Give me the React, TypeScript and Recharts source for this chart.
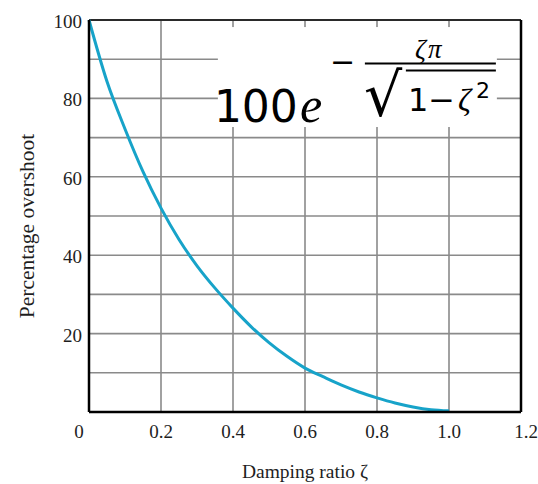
import React from "react";
import {
  LineChart,
  Line,
  XAxis,
  YAxis,
  CartesianGrid,
  ReferenceLine,
} from "recharts";

const zeta = [0, 0.05, 0.1, 0.15, 0.2, 0.25, 0.3, 0.35, 0.4, 0.45, 0.5, 0.55, 0.6, 0.65, 0.7, 0.75, 0.8, 0.85, 0.9, 0.95, 1.0];
const overshoot = [100, 84.3, 72.2, 61.3, 52, 44, 37.3, 31.6, 26.5, 21.8, 17.7, 14.2, 11.2, 9.0, 6.9, 5.1, 3.6, 2.3, 1.3, 0.6, 0.3];
const xTicks = [0, 0.2, 0.4, 0.6, 0.8, 1.0, 1.2];
const xTickLabels = ["0", "0.2", "0.4", "0.6", "0.8", "1.0", "1.2"];
const yTicks = [0, 10, 20, 30, 40, 50, 60, 70, 80, 90, 100];
const yLabelValues = [20, 40, 60, 80, 100];
const xTitle = "Damping ratio \u03B6";
const yTitle = "Percentage overshoot";
const X_DOMAIN = [0, 1.2];
const Y_DOMAIN = [0, 100];
// formula annotation box (data coords)
const formulaBox = { x1: 0.358, x2: 1.133, y1: 72.7, y2: 98.2 };

const data = zeta.map((z, i) => ({ z, p: overshoot[i] }));

const W = 538;
const H = 484;
const MARGIN = { top: 20, right: 17, bottom: 0, left: 0 };
const Y_AXIS_W = 89;
const X_AXIS_H = 72;
const PLOT = {
  left: MARGIN.left + Y_AXIS_W,
  top: MARGIN.top,
  width: W - MARGIN.left - MARGIN.right - Y_AXIS_W,
  height: H - MARGIN.top - MARGIN.bottom - X_AXIS_H,
};
const sx = (v: number) => PLOT.left + ((v - X_DOMAIN[0]) / (X_DOMAIN[1] - X_DOMAIN[0])) * PLOT.width;
const sy = (v: number) => PLOT.top + (1 - (v - Y_DOMAIN[0]) / (Y_DOMAIN[1] - Y_DOMAIN[0])) * PLOT.height;

const SERIF = "Liberation Serif";
const SANS = "DejaVu Sans";
const TEXT = "#1e1e1e";

const XTick = (props: any) => {
  const { x, y, payload } = props;
  const idx = xTicks.indexOf(payload.value);
  const label = idx >= 0 ? xTickLabels[idx] : String(payload.value);
  let dx = 0;
  if (payload.value === 0) dx = -10;
  if (payload.value === 1.2) dx = 5;
  return (
    <text x={x + dx} y={y + 26} textAnchor="middle" fontFamily={SERIF} fontSize={19} fill={TEXT}>
      {label}
    </text>
  );
};

const YTick = (props: any) => {
  const { x, y, payload } = props;
  if (!yLabelValues.includes(payload.value)) return null;
  return (
    <text x={x - 7} y={y + 8} textAnchor="end" fontFamily={SERIF} fontSize={19} fill={TEXT}>
      {payload.value}
    </text>
  );
};

const Formula = () => {
  const bx = sx(formulaBox.x1);
  const by = sy(formulaBox.y2);
  const w = sx(formulaBox.x2) - bx;
  const h = sy(formulaBox.y1) - by;
  return (
    <svg width={W} height={H} style={{ position: "absolute", left: 0, top: 0, pointerEvents: "none" }}>
      <rect x={bx} y={by} width={w} height={h} fill="#fff" stroke="none" />
      <text x={bx - 4} y={by + 95} fontFamily={SANS} fontSize={44} fill="#000">
        100
      </text>
      <text x={bx + 82} y={by + 95} fontFamily={SERIF} fontStyle="italic" fontSize={50} fill="#000">
        e
      </text>
      <text x={bx + 112} y={by + 45} fontFamily={SANS} fontSize={30} fill="#000">
        {"\u2212"}
      </text>
      <line x1={bx + 147} x2={bx + w - 1} y1={by + 36.5} y2={by + 36.5} stroke="#000" strokeWidth={2} />
      <text x={bx + 212} y={by + 31} textAnchor="middle" fontFamily={SERIF} fontStyle="italic" fontSize={27} letterSpacing={3} fill="#000">
        {"\u03B6\u03C0"}
      </text>
      <text x={bx + 146} y={by + 89} fontFamily={SANS} fontSize={60} fill="#000">
        {"\u221A"}
      </text>
      <line x1={bx + 188} x2={bx + w - 1} y1={by + 43.5} y2={by + 43.5} stroke="#000" strokeWidth={2} />
      <text x={bx + 190} y={by + 84} fontFamily={SANS} fontSize={32} fill="#000">
        {"1\u2212"}
      </text>
      <text x={bx + 240} y={by + 84} fontFamily={SERIF} fontStyle="italic" fontSize={32} fill="#000">
        {"\u03B6"}
      </text>
      <text x={bx + 258} y={by + 71} fontFamily={SANS} fontSize={22} fill="#000">
        2
      </text>
    </svg>
  );
};

const XTitle = (props: any) => {
  const vb = props.viewBox || {};
  return (
    <text x={vb.x + vb.width / 2} y={vb.y + 66} textAnchor="middle" fontFamily={SERIF} fontSize={19.5} fill={TEXT}>
      {xTitle}
    </text>
  );
};

const YTitle = (props: any) => {
  const vb = props.viewBox || {};
  const cx = vb.x + 34;
  const cy = vb.y + vb.height / 2 + 10;
  return (
    <text x={cx} y={cy} textAnchor="middle" transform={`rotate(-90, ${cx}, ${cy})`} fontFamily={SERIF} fontSize={21.5} fill={TEXT}>
      {yTitle}
    </text>
  );
};

export default function App() {
  return (
    <div style={{ position: "absolute", left: 0, top: 0, width: W, height: H, background: "#fff" }}>
      <LineChart width={W} height={H} data={data} margin={MARGIN}>
        <CartesianGrid stroke="#8a8a8a" strokeWidth={1.6} />
        <XAxis
          dataKey="z"
          type="number"
          domain={X_DOMAIN}
          ticks={xTicks}
          height={X_AXIS_H}
          tickSize={0}
          tickMargin={0}
          tickLine={false}
          axisLine={{ stroke: "#000", strokeWidth: 2.5 }}
          tick={<XTick />}
          interval={0}
          label={<XTitle />}
        />
        <YAxis
          type="number"
          domain={Y_DOMAIN}
          ticks={yTicks}
          width={Y_AXIS_W}
          tickSize={0}
          tickMargin={0}
          tickLine={false}
          axisLine={{ stroke: "#000", strokeWidth: 2.5 }}
          tick={<YTick />}
          interval={0}
          label={<YTitle />}
        />
        <ReferenceLine y={100} stroke="#2a2a2a" strokeWidth={2} />
        <ReferenceLine x={1.2} stroke="#000" strokeWidth={2.5} />
        <Line
          type="monotone"
          dataKey="p"
          stroke="#17a3c9"
          strokeWidth={3}
          dot={false}
          isAnimationActive={false}
        />
      </LineChart>
      <Formula />
    </div>
  );
}
